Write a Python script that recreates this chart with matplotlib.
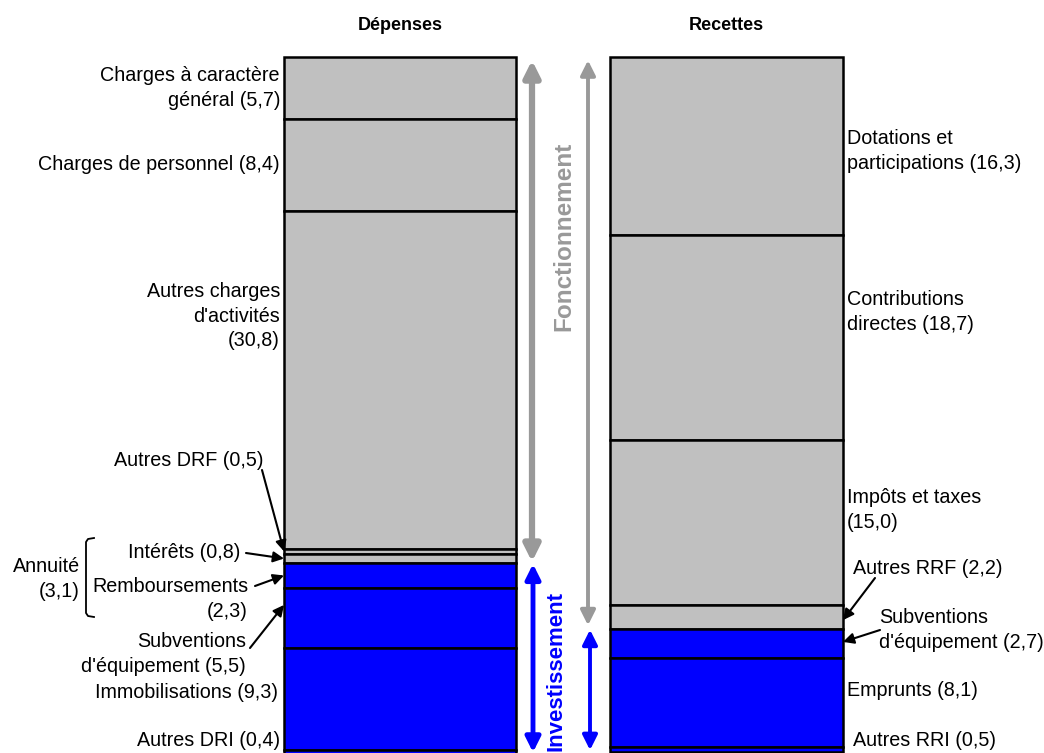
import numpy as np
import matplotlib.pyplot as plt
from matplotlib.patches import FancyArrowPatch

plt.rcParams['font.family'] = ['Liberation Sans', 'DejaVu Sans']

# Budget items, listed from the top of each column down (M€)
dep_labels = ["Charges à caractère général", "Charges de personnel",
              "Autres charges d'activités", "Autres DRF", "Intérêts",
              "Remboursements", "Subventions d'équipement",
              "Immobilisations", "Autres DRI"]
dep_values = [5.7, 8.4, 30.8, 0.5, 0.8, 2.3, 5.5, 9.3, 0.4]
dep_n_fonct = 5   # first five items are fonctionnement

rec_labels = ["Dotations et participations", "Contributions directes",
              "Impôts et taxes", "Autres RRF", "Subventions d'équipement",
              "Emprunts", "Autres RRI"]
rec_values = [16.3, 18.7, 15.0, 2.2, 2.7, 8.1, 0.5]
rec_n_fonct = 4

annuite = 3.1

GREY = '#c0c0c0'
BLUE = '#0000ff'
ARROW_GREY = '#999999'

TOP_PX = 57
PX_PER_UNIT = 10.95


def py(pixel_y):
    """pixel row -> amount measured from the top of the columns"""
    return (pixel_y - TOP_PX) / PX_PER_UNIT


def fr(v):
    return f"{v:.1f}".replace('.', ',')


fig = plt.figure(figsize=(10.44, 7.53), dpi=100)
ax = fig.add_axes([0, 0, 1, 1])
ax.set_xlim(0, 1044)
ax.set_ylim(py(753), py(0))
ax.axis('off')


def draw_column(x0, x1, values, n_fonct):
    starts = np.concatenate([[0], np.cumsum(values)[:-1]])
    colors = [GREY] * n_fonct + [BLUE] * (len(values) - n_fonct)
    ax.bar((x0 + x1) / 2, values, width=x1 - x0, bottom=starts,
           color=colors, edgecolor='black', linewidth=1.8)
    return starts


dep_start = draw_column(284, 516, dep_values, dep_n_fonct)
rec_start = draw_column(610, 843, rec_values, rec_n_fonct)

dep_f = sum(dep_values[:dep_n_fonct])
rec_f = sum(rec_values[:rec_n_fonct])
dep_tot = sum(dep_values)
rec_tot = sum(rec_values)

fs = 14.2
ls = 1.36
ax.text(400, py(25), "Dépenses", ha='center', va='center', fontsize=13, fontweight='bold')
ax.text(726, py(25), "Recettes", ha='center', va='center', fontsize=13, fontweight='bold')


def double_arrow(x, y0, y1, color, lw, scale):
    ax.add_patch(FancyArrowPatch((x, y0), (x, y1), arrowstyle='<|-|>',
                                 mutation_scale=scale, color=color, lw=lw,
                                 shrinkA=0, shrinkB=0))


# section arrows
double_arrow(532, 0.3, dep_f - 0.1, ARROW_GREY, 4.5, 24)
double_arrow(588, 0.3, rec_f - 0.3, ARROW_GREY, 2.8, 22)
double_arrow(533, dep_f + 0.1, dep_tot - 0.2, BLUE, 3.5, 22)
double_arrow(590, rec_f + 0.1, rec_tot - 0.2, BLUE, 2.8, 22)

ax.text(564, py(236), "Fonctionnement", rotation=90, ha='center', va='center',
        fontsize=17.5, fontweight='bold', color=ARROW_GREY)
ax.text(556, py(671), "Investissement", rotation=90, ha='center', va='center',
        fontsize=16, fontweight='bold', color=BLUE)

# left side labels
left = dict(ha='right', va='center', fontsize=fs, linespacing=ls)
ax.text(280, py(88), f"Charges à caractère\ngénéral ({fr(dep_values[0])})", **left)
ax.text(280, py(164), f"Charges de personnel ({fr(dep_values[1])})", **left)
ax.text(280, py(316), f"Autres charges\nd'activités\n({fr(dep_values[2])})", **left)
ax.text(263, py(460), f"Autres DRF ({fr(dep_values[3])})", **left)
ax.text(240, py(552), f"Intérêts ({fr(dep_values[4])})", **left)
ax.text(248, py(599), f"Remboursements\n({fr(dep_values[5])})", **left)
ax.text(246, py(654), f"Subventions\nd'équipement ({fr(dep_values[6])})", **left)
ax.text(278, py(692), f"Immobilisations ({fr(dep_values[7])})", **left)
ax.text(280, py(740), f"Autres DRI ({fr(dep_values[8])})", **left)
ax.text(80, py(579), f"Annuité\n({fr(annuite)})", **left)

# annuité bracket
bx = 86
ax.plot([bx + 8, bx + 2, bx, bx, bx + 2, bx + 8],
        [py(538), py(539), py(542), py(613), py(616), py(617)],
        color='black', lw=1.3)


def pointer(xy_text, xy):
    ax.annotate('', xy=xy, xytext=xy_text,
                arrowprops=dict(arrowstyle='-|>', color='black', lw=1.5,
                                mutation_scale=16, shrinkA=0, shrinkB=0))


pointer((262, py(470)), (284, dep_start[3] + dep_values[3] / 2))
pointer((246, py(553)), (284, dep_start[4] + dep_values[4] / 2))
pointer((255, py(586)), (284, dep_start[5] + dep_values[5] * 0.5))
pointer((250, py(648)), (284, dep_start[6] + dep_values[6] * 0.28))

# right side labels
right = dict(ha='left', va='center', fontsize=fs, linespacing=ls)
ax.text(847, py(151), f"Dotations et\nparticipations ({fr(rec_values[0])})", **right)
ax.text(847, py(312), f"Contributions\ndirectes ({fr(rec_values[1])})", **right)
ax.text(847, py(510), f"Impôts et taxes\n({fr(rec_values[2])})", **right)
ax.text(853, py(568), f"Autres RRF ({fr(rec_values[3])})", **right)
ax.text(879, py(630), f"Subventions\nd'équipement ({fr(rec_values[4])})", **right)
ax.text(847, py(690), f"Emprunts ({fr(rec_values[5])})", **right)
ax.text(853, py(740), f"Autres RRI ({fr(rec_values[6])})", **right)

pointer((875, py(578)), (843, rec_start[3] + rec_values[3] * 0.65))
pointer((880, py(630)), (843, rec_start[4] + rec_values[4] * 0.45))

fig.savefig('out.png', dpi=100)
